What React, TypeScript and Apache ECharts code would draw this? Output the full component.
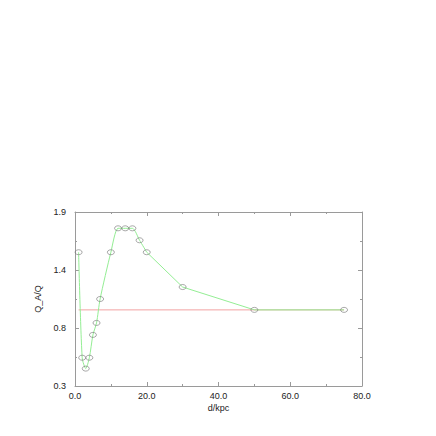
import React, { useEffect, useRef } from "react";
import * as echarts from "echarts";

const distances = [1, 2, 3, 4, 5, 6, 7, 10, 12, 14, 16, 18, 20, 30, 50, 75];
const ratios = [1.53, 0.56, 0.46, 0.56, 0.77, 0.88, 1.1, 1.53, 1.75, 1.75, 1.75, 1.64, 1.53, 1.21, 1.0, 1.0];
const referenceX = [1, 75];
const referenceY = [1.0, 1.0];
const SMOOTH_END_INDEX = 12; // the curve is smooth up to d = 20, straight afterwards

const Y_MIN = 0.3;
const Y_MAX = 1.9;
const Y_STEPS = 3;
const toUnit = (v: number) => ((v - Y_MIN) * Y_STEPS) / (Y_MAX - Y_MIN);
const fromUnit = (u: number) => Y_MIN + (u * (Y_MAX - Y_MIN)) / Y_STEPS;

const FONT = "Liberation Sans";
const AXIS_COLOR = "#9a9a9a";
const TEXT_COLOR = "#222";
const GREEN = "#94ee94";

export default function App() {
  const ref = useRef<HTMLDivElement>(null);
  useEffect(() => {
    if (!ref.current) return;
    const chart = echarts.init(ref.current, undefined, { renderer: "svg" });
    const axisCommon = {
      axisLine: { show: true, onZero: false, lineStyle: { color: AXIS_COLOR, width: 1 } },
      axisTick: { show: true, inside: true, length: 4, lineStyle: { color: AXIS_COLOR } },
      minorTick: { show: true, splitNumber: 2, length: 2, lineStyle: { color: AXIS_COLOR } },
      splitLine: { show: false },
    };
    const points = distances.map((x, i) => [x, toUnit(ratios[i])]);
    chart.setOption({
      animation: false,
      backgroundColor: "#fff",
      grid: { left: 67, right: 66, top: 204, bottom: 42, containLabel: false },
      xAxis: [
        {
          type: "value",
          min: 0,
          max: 80,
          interval: 20,
          position: "bottom",
          ...axisCommon,
          name: "d/kpc",
          nameLocation: "middle",
          nameGap: 17,
          nameTextStyle: { fontFamily: FONT, fontSize: 9, color: TEXT_COLOR },
          axisLabel: {
            show: true,
            margin: 5,
            fontFamily: FONT,
            fontSize: 9,
            color: TEXT_COLOR,
            formatter: (v: number) => v.toFixed(1),
          },
        },
        {
          type: "value",
          min: 0,
          max: 80,
          interval: 20,
          position: "top",
          ...axisCommon,
          axisLabel: { show: false },
        },
      ],
      yAxis: [
        {
          type: "value",
          min: 0,
          max: Y_STEPS,
          interval: 1,
          position: "left",
          ...axisCommon,
          name: "Q_A/Q",
          nameLocation: "middle",
          nameGap: 31,
          nameRotate: 90,
          nameTextStyle: { fontFamily: FONT, fontSize: 9, color: TEXT_COLOR },
          axisLabel: {
            show: true,
            margin: 9,
            fontFamily: FONT,
            fontSize: 9,
            color: TEXT_COLOR,
            formatter: (u: number) => fromUnit(u).toFixed(1),
          },
        },
        {
          type: "value",
          min: 0,
          max: Y_STEPS,
          interval: 1,
          position: "right",
          ...axisCommon,
          axisLabel: { show: false },
        },
      ],
      series: [
        {
          type: "line",
          data: referenceX.map((x, i) => [x, toUnit(referenceY[i])]),
          showSymbol: false,
          symbol: "none",
          lineStyle: { color: "#f2a2a2", width: 1 },
          z: 1,
        },
        {
          type: "line",
          data: points.slice(0, SMOOTH_END_INDEX + 1),
          smooth: 0.25,
          showSymbol: false,
          symbol: "none",
          lineStyle: { color: GREEN, width: 1 },
          z: 2,
        },
        {
          type: "line",
          data: points.slice(SMOOTH_END_INDEX),
          smooth: false,
          showSymbol: false,
          symbol: "none",
          lineStyle: { color: GREEN, width: 1 },
          z: 2,
        },
        {
          type: "scatter",
          data: points,
          symbol: "circle",
          symbolSize: [7, 5],
          itemStyle: { color: "rgba(0,0,0,0)", borderColor: "#7a7a7a", borderWidth: 0.8 },
          z: 3,
        },
      ],
    });
    return () => chart.dispose();
  }, []);
  return <div ref={ref} style={{ width: 420, height: 420 }} />;
}
